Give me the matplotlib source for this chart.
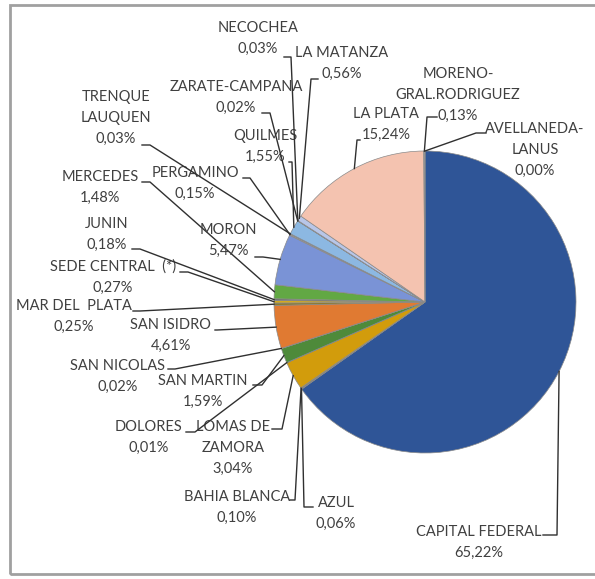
import matplotlib
matplotlib.use('Agg')
import matplotlib.pyplot as plt
import numpy as np

#%% data (clockwise from 12 o'clock)
names = ['CAPITAL FEDERAL', 'AZUL', 'BAHIA BLANCA', 'LOMAS DE\nZAMORA', 'DOLORES',
         'SAN MARTIN', 'SAN NICOLAS', 'SAN ISIDRO', 'MAR DEL  PLATA', 'SEDE CENTRAL  (*)',
         'JUNIN', 'MERCEDES', 'MORON', 'PERGAMINO', 'TRENQUE\nLAUQUEN', 'QUILMES',
         'ZARATE-CAMPANA', 'NECOCHEA', 'LA MATANZA', 'LA PLATA',
         'MORENO-\nGRAL.RODRIGUEZ', 'AVELLANEDA-\nLANUS']
shares = [65.22, 0.06, 0.10, 3.04, 0.01, 1.59, 0.02, 4.61, 0.25, 0.27,
          0.18, 1.48, 5.47, 0.15, 0.03, 1.55, 0.02, 0.03, 0.56, 15.24, 0.13, 0.00]
colors = ['#2F5597', '#4A6A9A', '#8A6A10', '#D29C0C', '#3A6A2A',
          '#4E8A3A', '#A05A20', '#E07A32', '#8C7A2E', '#D4AA1E',
          '#6B6B6B', '#62A844', '#7A93D6', '#999999', '#7F7F7F', '#8CB8E2',
          '#9DB0D8', '#9DB0D8', '#B8C6E8', '#F4C3B0', '#A5A5A5', '#A5A5A5']

#%% layout (pixel coords, origin top-left)
W, H = 595, 579
def Y(py):
    return H - py

cx, cy, R = 425, 302, 151

# text centre x, first line y, elbow x, elbow y, tick end x
layout = [
    (479, 532, 557, 535, 543),
    (336, 503, 304, 507, 313),
    (237, 497, 295, 500, 290),
    (233, 427, 282, 429, 272),
    (149, 427, 195, 432, 186),
    (203, 381, 262, 385, 253),
    (118, 366, 175, 369, 168),
    (171, 325, 217, 330, 215),
    (74, 306, 140, 311, 133),
    (113, 267, 188, 272, 180),
    (107, 224, 140, 249, 132),
    (100, 177, 150, 182, 142),
    (228, 230, 263, 257, 255),
    (195, 173, 250, 178, 243),
    (116, 97, 150, 145, 142),
    (265, 136, 292, 162, 289),
    (236, 87, 270, 113, 262),
    (258, 28, 291, 57, 284),
    (342, 53, 311, 79, 318),
    (386, 114, 357, 140, 360),
    (458, 74, 427, 117, 437),
    (535, 129, 476, 133, 486),
]

#%% plot
fig = plt.figure(figsize=(W / 100, H / 100), dpi=100)
ax = fig.add_axes([0, 0, 1, 1])

wedges, _ = ax.pie(shares, colors=colors, startangle=90, counterclock=False,
                   center=(cx, Y(cy)), radius=R,
                   wedgeprops=dict(linewidth=0.5, edgecolor='#8a8a8a'))

ax.set_xlim(0, W)
ax.set_ylim(0, H)
ax.set_aspect('equal')
ax.axis('off')

txt_col = '#404040'
line_col = '#303030'
dy = 21

for w, name, val, (tx, ty, ex, ey, hx) in zip(wedges, names, shares, layout):
    mid = np.deg2rad((w.theta1 + w.theta2) / 2)
    ax_, ay_ = cx + R * np.cos(mid), Y(cy) + R * np.sin(mid)
    ax.plot([ax_, ex, hx], [ay_, Y(ey), Y(ey)], color=line_col, lw=1, zorder=3)
    lines = name.split('\n') + [('%.2f%%' % val).replace('.', ',')]
    for i, s in enumerate(lines):
        ax.text(tx, Y(ty + i * dy), s, ha='center', va='center',
                fontsize=10.5, family='Lato', color=txt_col)

# chart frame
ax.add_patch(plt.Rectangle((10, Y(574)), 600, 569, fill=False,
                           edgecolor='#a0a0a0', lw=2, clip_on=False))

fig.savefig('out.png', dpi=100)
